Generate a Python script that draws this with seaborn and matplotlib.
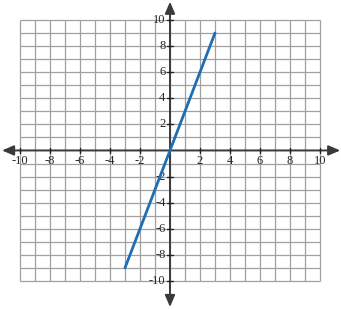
import matplotlib
matplotlib.use("Agg")
import matplotlib.pyplot as plt
import seaborn as sns
import numpy as np
import pandas as pd

sns.set_style("white")
plt.rcParams['font.family'] = ['Liberation Serif', 'DejaVu Serif']

line_x = [-3, 3]
line_y = [-9, 9]
grid_vals = list(range(-10, 11))
tick_vals = [-10, -8, -6, -4, -2, 2, 4, 6, 8, 10]
tick_labels = ["-10", "-8", "-6", "-4", "-2", "2", "4", "6", "8", "10"]

fig = plt.figure(figsize=(3.41, 3.09), dpi=100)
ax = fig.add_axes([0, 0, 1, 1])
ax.set_xlim(-11.333, 11.4)
ax.set_ylim(-12.15, 11.53)
ax.axis("off")

ax.vlines(grid_vals, -10, 10, color="#a0a0a0", lw=0.9, zorder=1)
ax.hlines(grid_vals, -10, 10, color="#a0a0a0", lw=0.9, zorder=1)

arrow = dict(arrowstyle="-|>,head_length=0.7,head_width=0.3", color="#3a3a3a", lw=1.4, shrinkA=0, shrinkB=0)
ax.annotate("", xy=(-11.2, 0), xytext=(0, 0), arrowprops=arrow, zorder=3)
ax.annotate("", xy=(11.35, 0), xytext=(0, 0), arrowprops=arrow, zorder=3)
ax.annotate("", xy=(0, 11.4), xytext=(0, 0), arrowprops=arrow, zorder=3)
ax.annotate("", xy=(0, -12.0), xytext=(0, 0), arrowprops=arrow, zorder=3)

for v, lab in zip(tick_vals, tick_labels):
    ax.plot([v, v], [-0.22, 0.22], color="#222222", lw=1.0, zorder=4)
    ax.plot([-0.22, 0.22], [v, v], color="#222222", lw=1.0, zorder=4)
    ax.text(v, -0.35, lab, ha="center", va="top", fontsize=9, zorder=5)
    ax.text(-0.3, v, lab, ha="right", va="center", fontsize=9, zorder=5)

df = pd.DataFrame({"x": line_x, "y": line_y})
sns.lineplot(data=df, x="x", y="y", ax=ax, color="#1f6eb5", lw=2.0, zorder=6)
ax.axis("off")

fig.savefig("out.png", dpi=100)
